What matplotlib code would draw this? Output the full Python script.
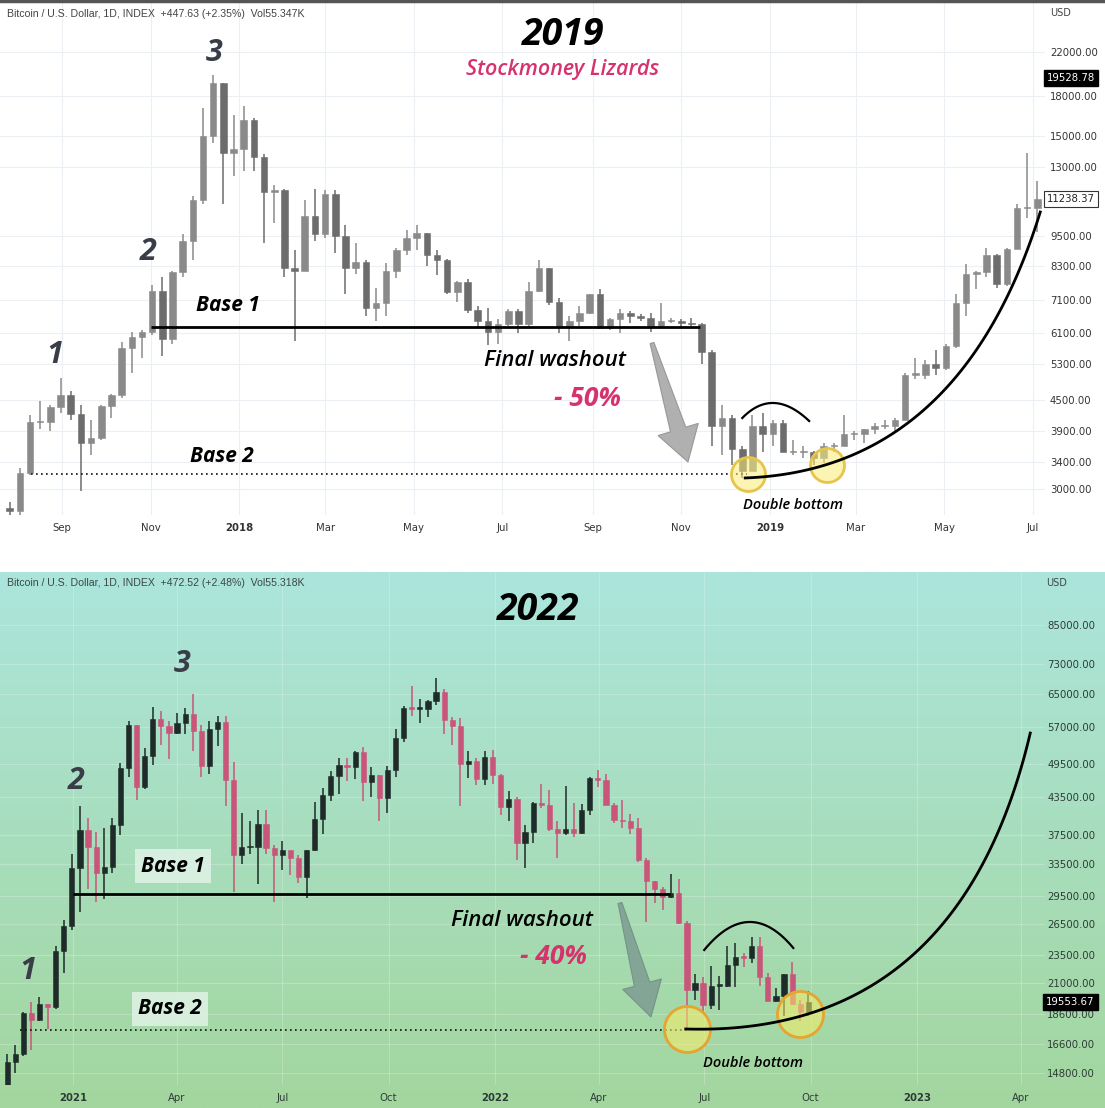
import numpy as np
import pandas as pd
import matplotlib
matplotlib.use('Agg')
import matplotlib.pyplot as plt
import matplotlib.dates as mdates
from matplotlib.patches import Polygon
from matplotlib.lines import Line2D

# ================= DATA =================
# ---- 2017-2019 panel: weekly candles (week starting Monday) ----
top_week_start = '2017-07-24'
top_open_first = 2750
top_high = [2830, 3300, 4200, 4480, 4400, 4980, 4700, 4400, 4100, 4400, 4620, 5850, 6150, 6200, 7600, 7900,
            8100, 9600, 11400, 17000, 19800, 19100, 16500, 17200, 16300, 13800, 12000, 11800, 8900, 11200,
            11800, 11700, 11700, 10000, 9200, 8500, 7500, 8400, 9000, 9750, 9990, 9650, 8900, 8550, 7750,
            7800, 6900, 6850, 6500, 6800, 6800, 7700, 8500, 8200, 7150, 6600, 6900, 7300, 7450, 6550, 6800,
            6750, 6650, 6700, 7000, 6550, 6500, 6550, 6400, 5650, 4400, 4200, 3650, 4200, 4250, 4100, 4100,
            3750, 3650, 3560, 3700, 3700, 4200, 3900, 3950, 4050, 4100, 4150, 5100, 5450, 5400, 5650, 5800,
            7300, 8350, 8100, 9000, 8750, 9000, 11000, 13900, 12200]
top_low = [2600, 2650, 3200, 3950, 3900, 4250, 4100, 2970, 3500, 3750, 4150, 4550, 5100, 5450, 6050, 5500,
           5800, 7900, 8500, 11000, 14500, 11000, 12500, 12800, 12800, 9200, 10100, 7900, 5900, 8100,
           9300, 9400, 8800, 7300, 8000, 6600, 6450, 6600, 7850, 8700, 8900, 8300, 7950, 7300, 7050,
           6700, 6250, 5780, 5800, 6300, 6100, 6300, 7350, 6950, 6100, 5880, 6300, 6650, 6250, 6200, 6100,
           6400, 6450, 6150, 6300, 6380, 6250, 6300, 5300, 3650, 3500, 3350, 3150, 3250, 3550, 3650, 3550,
           3500, 3450, 3350, 3380, 3550, 3650, 3750, 3700, 3850, 3950, 3900, 4100, 4950, 4950, 5050, 5150,
           5700, 6600, 7450, 7900, 7500, 7550, 8950, 10300, 9700]
top_close = [2720, 3220, 4070, 4080, 4350, 4600, 4230, 3700, 3780, 4380, 4600, 5700, 6000, 6150, 7400, 5950,
             8050, 9300, 11200, 15000, 19100, 13900, 14150, 16100, 13600, 11600, 11700, 8200, 8100, 10400,
             9600, 11500, 9500, 8200, 8450, 6850, 7000, 8100, 8900, 9400, 9650, 8700, 8500, 7350, 7700,
             6780, 6450, 6150, 6350, 6750, 6350, 7400, 8200, 7050, 6300, 6450, 6700, 7300, 6250, 6500, 6700,
             6600, 6550, 6300, 6450, 6450, 6400, 6350, 5600, 4000, 4150, 3600, 3250, 4000, 3850, 4050, 3550,
             3550, 3550, 3450, 3650, 3650, 3850, 3850, 3950, 4000, 4000, 4100, 5050, 5050, 5300, 5200, 5750,
             7000, 8000, 8050, 8700, 7650, 8950, 10800, 10800, 11238.37]
top_xticks = ['2017-09-01', '2017-11-01', '2018-01-01', '2018-03-01', '2018-05-01', '2018-07-01',
              '2018-09-01', '2018-11-01', '2019-01-01', '2019-03-01', '2019-05-01', '2019-07-01']
top_xticklabels = ['Sep', 'Nov', '2018', 'Mar', 'May', 'Jul', 'Sep', 'Nov', '2019', 'Mar', 'May', 'Jul']
top_price_levels = [22000, 18000, 15000, 13000, 9500, 8300, 7100, 6100, 5300, 4500, 3900, 3400, 3000]
top_last_price = 11238.37
top_mark_price = 19528.78
top_base1 = {'price': 6280, 'start': '2017-11-01', 'end': '2018-11-14'}
top_base2 = {'price': 3213, 'start': '2017-08-11', 'end': '2018-12-16'}
top_bottoms_dates = ['2018-12-17', '2019-02-09']
top_bottoms_prices = [3213, 3347]
top_hump_dates = ['2018-12-13', '2019-01-03', '2019-01-28']      # start, control, end
top_hump_prices = [4146, 4786, 4090]
top_curve_dates = ['2018-12-15', '2019-05-12', '2019-07-06']     # start, control, end
top_curve_prices = [3155, 3271, 10603]

# ---- 2020-2022 panel: weekly candles ----
bot_week_start = '2020-11-02'
bot_open_first = 13800
bot_high = [15950, 16500, 18800, 19500, 19900, 19400, 24300, 26900, 34800, 41950, 40100, 37900, 38500, 40000,
            49700, 58350, 57500, 52600, 61800, 60700, 58400, 60200, 61500, 64900, 57500, 58500, 59500, 59600,
            49800, 40900, 39500, 41300, 41300, 36000, 36600, 35100, 34700, 35400, 42600, 45000, 48100, 50500,
            50500, 51900, 52900, 48800, 47300, 49000, 56600, 62000, 67000, 63700, 63500, 69000, 66300, 59400,
            59100, 51900, 50500, 51900, 52100, 47600, 44500, 43500, 38900, 42600, 45800, 44700, 39500, 45400,
            42500, 42300, 46900, 48200, 47500, 42400, 42900, 40700, 40000, 34300, 31300, 30600, 32200, 31500,
            26800, 21800, 21500, 22500, 21600, 24300, 24600, 23600, 25200, 25200, 21900, 20600, 21800, 22800,
            19700, 20400]
bot_low = [13200, 14800, 15800, 16200, 18100, 17600, 19000, 21900, 25900, 27700, 30400, 28800, 29200, 32300,
           37400, 47000, 43000, 44900, 49300, 53300, 50400, 55500, 55500, 52000, 47000, 47500, 53000, 42000,
           30000, 33400, 34800, 31000, 34800, 28800, 32700, 32100, 31100, 29300, 35200, 37600, 42800, 43900,
           46300, 46600, 42800, 43400, 39600, 40800, 46900, 53900, 59700, 58000, 59400, 62300, 55600, 53300,
           42000, 46800, 45500, 45600, 45700, 40500, 39600, 34000, 32900, 36300, 41700, 38000, 34300, 37400,
           37200, 37600, 40500, 45200, 42100, 39200, 38500, 37600, 33700, 26700, 28700, 28000, 29300, 26500,
           17600, 19700, 18800, 19000, 18900, 20700, 20700, 22400, 22700, 20800, 19600, 19500, 18500, 19300,
           18100, 18500]
bot_close = [15480, 15960, 18680, 18180, 19370, 19150, 23850, 26300, 33000, 38150, 35800, 32300, 33100, 38900,
             48600, 57500, 45200, 51000, 59000, 57400, 55800, 58000, 60000, 56200, 49000, 56600, 58300, 46400,
             34700, 35700, 35800, 39100, 35600, 34700, 35300, 34250, 31800, 35400, 39900, 43800, 47100, 49300,
             48800, 51800, 46000, 47300, 43200, 48200, 54700, 61500, 61300, 61300, 63300, 65500, 58600, 57300,
             49400, 50100, 46700, 50800, 47300, 41800, 43100, 36300, 37900, 42400, 42200, 38400, 37700, 38400,
             37800, 41300, 46800, 46400, 42200, 39700, 39500, 38500, 34000, 31300, 30300, 29400, 29900, 26600,
             20500, 21000, 19300, 20800, 20800, 22600, 23300, 23200, 24300, 21500, 19600, 20000, 21800, 19400,
             18800, 19553.67]
bot_xticks = ['2021-01-01', '2021-04-01', '2021-07-01', '2021-10-01', '2022-01-01', '2022-04-01',
              '2022-07-01', '2022-10-01', '2023-01-01', '2023-04-01']
bot_xticklabels = ['2021', 'Apr', 'Jul', 'Oct', '2022', 'Apr', 'Jul', 'Oct', '2023', 'Apr']
bot_price_levels = [85000, 73000, 65000, 57000, 49500, 43500, 37500, 33500, 29500, 26500, 23500, 21000,
                    18600, 16600, 14800]
bot_last_price = 19553.67
bot_base1 = {'price': 29800, 'start': '2021-01-01', 'end': '2022-06-01'}
bot_base2 = {'price': 17505, 'start': '2020-11-16', 'end': '2022-06-18'}
bot_bottoms_dates = ['2022-06-16', '2022-09-22']
bot_bottoms_prices = [17575, 18635]
bot_hump_dates = ['2022-07-01', '2022-08-09', '2022-09-16']
bot_hump_prices = [23920, 29640, 24110]
bot_curve_dates = ['2022-06-15', '2023-02-06', '2023-04-09']
bot_curve_prices = [17575, 17035, 55770]

# ================= FIGURE =================
plt.rcParams['font.family'] = ['DejaVu Sans']
W, H = 1105, 1108
fig = plt.figure(figsize=(W / 100, H / 100), dpi=100)
fig.patch.set_facecolor('white')


def fx(x):
    return x / W


def fy(y):
    return 1 - y / H


ANN = ['Open Sans', 'DejaVu Sans']

# gradient background of lower panel
bg = fig.add_axes([0, 0, 1, (H - 572) / H])
bg.set_zorder(0)
g = np.linspace(0, 1, 256)[:, None, None]
c_top = np.array([172, 229, 220]) / 255
c_bot = np.array([163, 214, 158]) / 255
img = c_top * (1 - g) + c_bot * g
bg.imshow(np.repeat(img, 2, axis=1), aspect='auto', extent=[0, 1, 0, 1])
bg.axis('off')

ax1 = fig.add_axes([0, fy(515), 1045 / W, 515 / H])
ax2 = fig.add_axes([0, fy(1085), 1045 / W, (1085 - 572) / H])
ax1.set_zorder(2)
ax2.set_zorder(2)
ax2.patch.set_alpha(0)


def draw_candles(ax, start, o0, hi, lo, cl, up_c, dn_c, body_days):
    n = len(cl)
    x = mdates.date2num(pd.date_range(start, periods=n, freq='7D')) + 3
    cl = np.asarray(cl, float)
    hi = np.asarray(hi, float)
    lo = np.asarray(lo, float)
    op = np.concatenate([[o0], cl[:-1]])
    up = cl >= op
    colors = np.where(up, up_c, dn_c)
    ax.vlines(x, lo, hi, colors=colors, lw=1.1, zorder=3)
    bottom = np.minimum(op, cl)
    height = np.maximum(np.abs(cl - op), bottom * 0.006)
    ax.bar(x, height, width=body_days, bottom=bottom, color=colors, edgecolor=colors,
           lw=0.4, zorder=4)


def setup(ax, xlim, ylim, levels, xt, xtl, lab_color, grid_color, grid_alpha, ypad):
    ax.set_yscale('log')
    ax.set_xlim(xlim)
    ax.set_ylim(ylim)
    ax.minorticks_off()
    ax.yaxis.tick_right()
    ax.set_yticks(levels)
    ax.set_yticklabels([f'{v:.2f}' for v in levels])
    ax.minorticks_off()
    ax.set_xticks(mdates.date2num(pd.to_datetime(xt)))
    ax.set_xticklabels(xtl)
    for lab, t in zip(ax.get_xticklabels(), xtl):
        if t.isdigit():
            lab.set_fontweight('bold')
    ax.tick_params(axis='both', length=0, labelsize=7.3, labelcolor=lab_color)
    ax.tick_params(axis='y', pad=ypad)
    ax.tick_params(axis='x', pad=6)
    for s in ax.spines.values():
        s.set_visible(False)
    ax.grid(True, color=grid_color, lw=0.8, alpha=grid_alpha)
    ax.set_axisbelow(True)


def dnum(s):
    return mdates.date2num(pd.Timestamp(s))


# ---- top panel ----
draw_candles(ax1, top_week_start, top_open_first, top_high, top_low, top_close,
             '#8a8a8a', '#6c6c6c', 4.5)
setup(ax1, (dnum('2017-07-20 08:00'), dnum('2019-07-09 06:00')), (2665, 27860),
      top_price_levels, top_xticks, top_xticklabels, '#333333', '#eceff3', 1.0, 3.6)

# ---- bottom panel ----
draw_candles(ax2, bot_week_start, bot_open_first, bot_high, bot_low, bot_close,
             '#1e2b29', '#c9557a', 4.5)
setup(ax2, (dnum('2020-10-29 20:00'), dnum('2023-04-21 18:00')), (14124, 104550),
      bot_price_levels, bot_xticks, bot_xticklabels, '#2c3b36', 'white', 0.22, 1.6)


def bezier(ax, dates, prices, **kw):
    t = np.linspace(0, 1, 120)
    xs = np.array([dnum(d) for d in dates])
    ys = np.log10(np.array(prices, float))
    bx = (1 - t) ** 2 * xs[0] + 2 * (1 - t) * t * xs[1] + t ** 2 * xs[2]
    by = (1 - t) ** 2 * ys[0] + 2 * (1 - t) * t * ys[1] + t ** 2 * ys[2]
    ax.plot(bx, 10 ** by, **kw)


def annotate_panel(ax, base1, base2, bdates, bprices, hump_d, hump_p, curve_d, curve_p,
                   circ_s, circ_fc, circ_ec):
    ax.plot([dnum(base1['start']), dnum(base1['end'])], [base1['price']] * 2, color='black',
            lw=2.0, zorder=6, solid_capstyle='butt')
    ax.plot([dnum(base2['start']), dnum(base2['end'])], [base2['price']] * 2, color='#111111',
            lw=1.2, ls=(0, (1, 2)), zorder=6)
    ax.scatter([dnum(d) for d in bdates], bprices, s=circ_s, facecolor=circ_fc,
               edgecolor=circ_ec, lw=2.0, zorder=7)
    bezier(ax, hump_d, hump_p, color='black', lw=1.6, zorder=7)
    bezier(ax, curve_d, curve_p, color='black', lw=2.0, zorder=7, clip_on=False)


annotate_panel(ax1, top_base1, top_base2, top_bottoms_dates, top_bottoms_prices, top_hump_dates,
               top_hump_prices, top_curve_dates, top_curve_prices, 600, (0.98, 0.92, 0.45, 0.55),
               '#e6c54a')
annotate_panel(ax2, bot_base1, bot_base2, bot_bottoms_dates, bot_bottoms_prices, bot_hump_dates,
               bot_hump_prices, bot_curve_dates, bot_curve_prices, 1100, (0.97, 0.93, 0.40, 0.55),
               '#e5a530')

# boxed price labels
ax1.text(1047 / 1045, top_mark_price, f'{top_mark_price:.2f}', transform=ax1.get_yaxis_transform(),
         ha='left', va='center', fontsize=7.3, color='white', clip_on=False,
         bbox=dict(boxstyle='square,pad=0.3', fc='black', ec='black'))
ax1.text(1047 / 1045, top_last_price, f'{top_last_price:.2f}', transform=ax1.get_yaxis_transform(),
         ha='left', va='center', fontsize=7.3, color='#222222', clip_on=False,
         bbox=dict(boxstyle='square,pad=0.3', fc='white', ec='#333333', lw=0.8))
ax2.text(1046 / 1045, bot_last_price, f'{bot_last_price:.2f}', transform=ax2.get_yaxis_transform(),
         ha='left', va='center', fontsize=7.3, color='white', clip_on=False,
         bbox=dict(boxstyle='square,pad=0.3', fc='black', ec='black'))


def arrow_px(x0, y0, x1, y1, w0, w1, hw, hl):
    d = np.array([x1 - x0, y1 - y0], float)
    u = d / np.hypot(*d)
    n = np.array([-u[1], u[0]])
    p0 = np.array([x0, y0], float)
    tip = np.array([x1, y1], float)
    hb = tip - u * hl
    pts = [p0 + n * w0 / 2, hb + n * w1 / 2, hb + n * hw / 2, tip, hb - n * hw / 2,
           hb - n * w1 / 2, p0 - n * w0 / 2]
    return [(fx(px), fy(py)) for px, py in pts]


fig.add_artist(Polygon(arrow_px(652, 343, 688, 462, 4, 16, 42, 34), closed=True,
                       fc='#a8a8a8', ec='#929292', lw=0.8, alpha=0.9, zorder=8))
fig.add_artist(Polygon(arrow_px(620, 903, 651, 1017, 4, 16, 40, 34), closed=True,
                       fc='#7d9c92', ec='#6f8d83', lw=0.8, alpha=0.85, zorder=8))

# top dark border
fig.add_artist(Line2D([0, 1], [fy(1), fy(1)], color='#555555', lw=2.5, zorder=9))


def T(x, y, s, size, color='black', weight='bold', style='italic', ha='center', box=None,
      family=None):
    fig.text(fx(x), fy(y), s, fontsize=size, color=color, fontweight=weight, fontstyle=style,
             ha=ha, va='center', family=family or ANN, zorder=10, bbox=box)


# headers
T(7, 14, 'Bitcoin / U.S. Dollar, 1D, INDEX  +447.63 (+2.35%)  Vol55.347K', 7.6, '#444444',
  'normal', 'normal', 'left', family=['Liberation Sans', 'DejaVu Sans'])
T(7, 583, 'Bitcoin / U.S. Dollar, 1D, INDEX  +472.52 (+2.48%)  Vol55.318K', 7.6, '#3a4a44',
  'normal', 'normal', 'left', family=['Liberation Sans', 'DejaVu Sans'])
T(1050, 13, 'USD', 7, '#444444', 'normal', 'normal', 'left', family=['DejaVu Sans'])
T(1046, 583, 'USD', 7, '#3a4a44', 'normal', 'normal', 'left', family=['DejaVu Sans'])

# top annotations
NUM = '#383d48'
PINK = '#d6336e'
T(563, 35, '2019', 27)
T(563, 69, 'Stockmoney Lizards', 15.5, PINK, 'semibold')
T(214, 53, '3', 22, NUM)
T(148, 252, '2', 22, NUM)
T(55, 355, '1', 22, NUM)
T(228, 306, 'Base 1', 15)
T(222, 457, 'Base 2', 15)
T(555, 361, 'Final washout', 16, 'black', 'semibold')
T(588, 398, '- 50%', 19, PINK)
T(793, 505, 'Double bottom', 10.5, 'black', 'semibold')

# bottom annotations
lbox = dict(boxstyle='square,pad=0.3', fc='#e4f4ea', ec='none', alpha=0.8)
T(538, 610, '2022', 27)
T(182, 664, '3', 22, NUM)
T(76, 781, '2', 22, NUM)
T(28, 971, '1', 22, NUM)
T(173, 866, 'Base 1', 15, box=lbox)
T(170, 1009, 'Base 2', 15, box=lbox)
T(522, 921, 'Final washout', 16, 'black', 'semibold')
T(553, 957, '- 40%', 19, PINK)
T(753, 1063, 'Double bottom', 10.5, 'black', 'semibold')

fig.savefig('out.png', dpi=100, facecolor='white')
